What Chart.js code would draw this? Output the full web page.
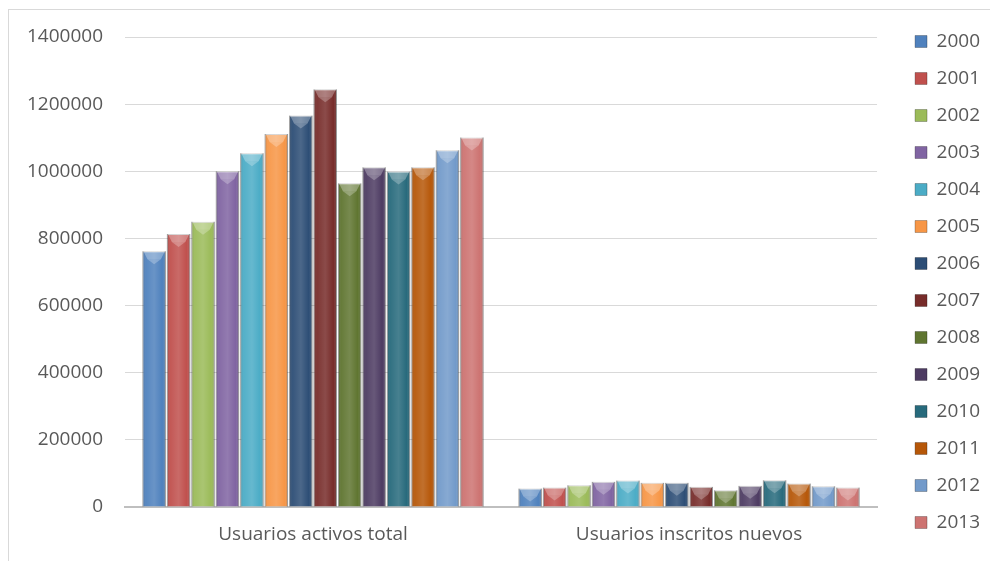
<!DOCTYPE html>
<html>
<head>
<meta charset="utf-8">
<script src="https://cdn.jsdelivr.net/npm/chart.js@4"></script>
<style>
   body { margin: 0; background: #fff; overflow: hidden; }
   #frame { position: absolute; left: 8px; top: 9px; width: 1000px; height: 600px; border: 1px solid #d9d9d9; }
   #wrap { position: absolute; left: 0; top: 0; width: 990px; height: 561px; }
</style>
</head>
<body>
<div id="frame"></div>
<div id="wrap"><canvas id="chart"></canvas></div>
<script>

const categories = ["Usuarios activos total", "Usuarios inscritos nuevos"];
const years = ["2000", "2001", "2002", "2003", "2004", "2005", "2006",
               "2007", "2008", "2009", "2010", "2011", "2012", "2013"];
const activosTotal = [762000, 813000, 850000, 1000000, 1054000, 1111000, 1166000,
                      1244000, 964000, 1012000, 999000, 1012000, 1063000, 1101000];
const inscritosNuevos = [55000, 58000, 65000, 75000, 79000, 72000, 72000,
                         60000, 50000, 63000, 80000, 70000, 62000, 58000];
const yTicks = [0, 200000, 400000, 600000, 800000, 1000000, 1200000, 1400000];

const colors = ["#4F81BD", "#C0504D", "#9BBB59", "#8064A2", "#4BACC6", "#F79646", "#2C4D75",
                "#772C2A", "#5F7530", "#4D3B62", "#276A7C", "#B65708", "#729ACA", "#CD7371"];

// fake the excel bevel look on top of each bar
const bevelPlugin = {
   id: 'bevel',
   afterDatasetsDraw(chart) {
      const ctx = chart.ctx;
      chart.data.datasets.forEach(function (ds, di) {
         const meta = chart.getDatasetMeta(di);
         meta.data.forEach(function (bar) {
            const w = bar.width;
            const left = bar.x - w / 2;
            const right = bar.x + w / 2;
            const h = bar.base - bar.y;
            if (h <= 0) return;
            ctx.save();
            const g = ctx.createLinearGradient(left, 0, right, 0);
            g.addColorStop(0, 'rgba(0,0,0,0.25)');
            g.addColorStop(0.15, 'rgba(255,255,255,0.05)');
            g.addColorStop(0.5, 'rgba(255,255,255,0.15)');
            g.addColorStop(0.85, 'rgba(255,255,255,0.0)');
            g.addColorStop(1, 'rgba(0,0,0,0.3)');
            ctx.fillStyle = g;
            ctx.fillRect(left, bar.y, w, h);
            const bev = Math.min(8, h / 2);
            ctx.beginPath();
            ctx.moveTo(left + 1, bar.y);
            ctx.lineTo(right - 1, bar.y);
            ctx.lineTo(right - 5, bar.y + bev);
            ctx.lineTo(left + 5, bar.y + bev);
            ctx.closePath();
            ctx.fillStyle = 'rgba(255,255,255,0.3)';
            ctx.fill();
            ctx.beginPath();
            ctx.moveTo(left + 5, bar.y + bev);
            ctx.lineTo(right - 5, bar.y + bev);
            ctx.lineTo(bar.x, bar.y + bev + 5);
            ctx.closePath();
            ctx.fillStyle = 'rgba(255,255,255,0.25)';
            ctx.fill();
            ctx.restore();
         });
      });
   }
};

const datasets = [];
for (var i = 0; i < years.length; i++) {
   datasets.push({
      label: years[i],
      data: [activosTotal[i], inscritosNuevos[i]],
      backgroundColor: colors[i],
      borderColor: 'rgba(0,0,0,0.25)',
      borderWidth: 1,
      barPercentage: 0.96,
      categoryPercentage: 0.91
   });
}

Chart.defaults.font.family = "'Open Sans', 'Liberation Sans', sans-serif";
Chart.defaults.color = '#595959';

const config = {
   type: 'bar',
   data: {
      labels: categories,
      datasets: datasets
   },
   options: {
      responsive: true,
      maintainAspectRatio: false,
      animation: false,
      layout: {
         padding: { left: 0, right: 0, top: 3, bottom: 0 }
      },
      plugins: {
         tooltip: { enabled: false },
         legend: {
            position: 'right',
            labels: {
               font: { size: 19 },
               color: '#595959',
               boxWidth: 12,
               boxHeight: 12,
               padding: 18
            }
         }
      },
      scales: {
         x: {
            grid: { display: false, drawTicks: false },
            border: { color: '#bfbfbf', width: 2 },
            ticks: { font: { size: 19 }, padding: 16 },
            afterFit: function (axis) { axis.height = 54; }
         },
         // spacer so the plot starts lower than the legend
         xTop: {
            position: 'top',
            display: true,
            grid: { display: false, drawTicks: false },
            border: { display: false },
            ticks: { display: false },
            afterFit: function (axis) { axis.height = 34; }
         },
         y: {
            min: 0,
            max: 1400000,
            afterBuildTicks: function (axis) {
               axis.ticks = yTicks.map(function (v) { return { value: v }; });
            },
            grid: { color: '#d9d9d9', drawTicks: false },
            border: { display: false },
            ticks: {
               font: { size: 19 },
               padding: 22,
               callback: function (value) { return String(value); }
            },
            afterFit: function (axis) { axis.width = 125; }
         },
         // spacer between plot and legend
         yRight: {
            position: 'right',
            display: true,
            grid: { display: false, drawTicks: false },
            border: { display: false },
            ticks: { display: false },
            afterFit: function (axis) { axis.width = 20; }
         }
      }
   },
   plugins: [bevelPlugin]
};

const myChart = new Chart(document.getElementById('chart'), config);
</script>
</body>
</html>
